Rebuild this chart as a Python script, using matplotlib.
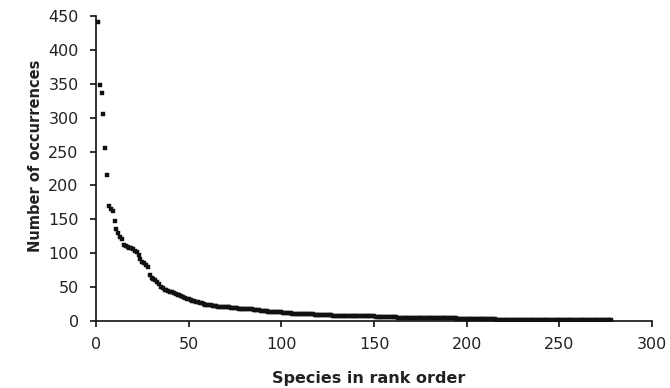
import matplotlib
matplotlib.use("Agg")
import matplotlib.pyplot as plt

# occurrences per species, in rank order (1..278)
counts = [
    441, 348, 336, 305, 255, 215, 170, 165, 163, 148, 135, 130, 124, 121, 112, 110, 109, 108, 107, 106,
    104, 102, 97, 92, 87, 85, 82, 80, 68, 64, 62, 60, 58, 55, 50, 48, 46, 45, 44, 43,
    43, 42, 40, 39, 38, 37, 35, 34, 33, 32, 31, 30, 29, 28, 28, 27, 26, 25, 24, 24,
    23, 23, 22, 22, 22, 21, 21, 21, 20, 20, 20, 20, 19, 19, 19, 19, 18, 18, 18, 18,
    17, 17, 17, 17, 16, 16, 16, 16, 15, 15, 15, 15, 14, 14, 14, 14, 13, 13, 13, 13,
    12, 12, 12, 12, 12, 11, 11, 11, 11, 11, 10, 10, 10, 10, 10, 10, 10, 9, 9, 9,
    9, 9, 9, 9, 9, 9, 9, 8, 8, 8, 8, 8, 8, 8, 8, 8, 8, 7, 7, 7,
    7, 7, 7, 7, 7, 7, 7, 7, 7, 7, 6, 6, 6, 6, 6, 6, 6, 6, 6, 6,
    6, 6, 5, 5, 5, 5, 5, 5, 5, 5, 5, 5, 5, 5, 5, 5, 4, 4, 4, 4,
    4, 4, 4, 4, 4, 4, 4, 4, 4, 4, 4, 4, 4, 4, 3, 3, 3, 3, 3, 3,
    3, 3, 3, 3, 3, 3, 3, 3, 3, 3, 3, 3, 3, 3, 3, 2, 2, 2, 2, 2,
    2, 2, 2, 2, 2, 2, 2, 2, 2, 2, 2, 2, 2, 2, 2, 2, 2, 2, 2, 2,
    2, 2, 2, 2, 2, 2, 2, 2, 2, 2, 1, 1, 1, 1, 1, 1, 1, 1, 1, 1,
    1, 1, 1, 1, 1, 1, 1, 1, 1, 1, 1, 1, 1, 1, 1, 1, 1, 1,
]
ranks = list(range(1, len(counts) + 1))

x_ticks = [0, 50, 100, 150, 200, 250, 300]
y_ticks = [0, 50, 100, 150, 200, 250, 300, 350, 400, 450]

plt.rcParams["font.family"] = ["DejaVu Sans"]

fig = plt.figure(figsize=(6.7, 3.88), dpi=100)
ax = fig.add_axes([0.1433, 0.1727, 0.8299, 0.7861])

ax.plot(ranks, counts, ls="none", marker="s", ms=3.5, mfc="#111111", mec="#111111", mew=0.3)

ax.set_xlim(0, 300)
ax.set_ylim(0, 450)
ax.set_xticks(x_ticks)
ax.set_yticks(y_ticks)

for s in ["top", "right"]:
    ax.spines[s].set_visible(False)
for s in ["left", "bottom"]:
    ax.spines[s].set_linewidth(1.2)
    ax.spines[s].set_color("#111111")

ax.tick_params(axis="both", direction="out", length=4.5, width=1.2, colors="#111111",
               labelsize=11.5, labelcolor="#222222")
ax.tick_params(axis="y", pad=8)
ax.tick_params(axis="x", pad=7)

ax.set_xlabel("Species in rank order", fontsize=11.5, fontweight="bold", color="#222222")
ax.set_ylabel("Number of occurrences", fontsize=10.5, fontweight="bold", color="#222222")
ax.xaxis.set_label_coords(0.49, -0.163)
ax.yaxis.set_label_coords(-0.095, 0.54)

fig.savefig("out.png", dpi=100)
